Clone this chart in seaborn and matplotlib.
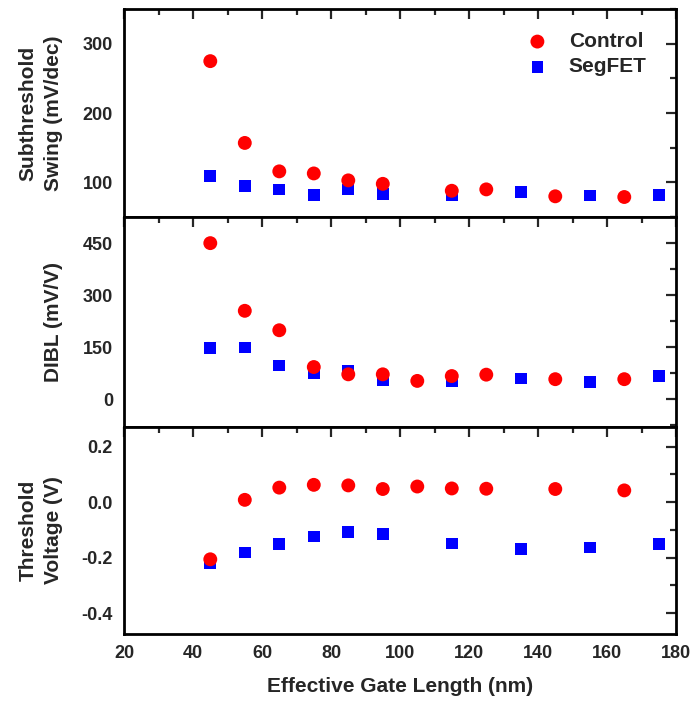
import numpy as np
import pandas as pd
import matplotlib
matplotlib.use("Agg")
import matplotlib.pyplot as plt
import seaborn as sns
from matplotlib.ticker import MultipleLocator, FormatStrFormatter

# gate lengths (nm)
x_control = [45, 55, 65, 75, 85, 95, 115, 125, 145, 165]
x_segfet = [45, 55, 65, 75, 85, 95, 115, 135, 155, 175]
x_control_dibl = [45, 55, 65, 75, 85, 95, 105, 115, 125, 145, 165]
x_control_vt = [45, 55, 65, 75, 85, 95, 105, 115, 125, 145, 165]

# subthreshold swing (mV/dec)
ss_control = [275, 157, 116, 113, 103, 98, 88, 90, 80, 79]
ss_segfet = [109, 95, 90, 82, 90, 83, 81, 86, 81, 82]

# DIBL (mV/V)
dibl_control = [450, 255, 199, 93, 72, 72, 53, 67, 71, 58, 58]
dibl_segfet = [147, 149, 97, 75, 81, 54, 52, 60, 49, 68]

# threshold voltage (V)
vt_control = [-0.206, 0.008, 0.052, 0.062, 0.060, 0.047, 0.056, 0.049, 0.048, 0.047, 0.042]
vt_segfet = [-0.219, -0.181, -0.151, -0.124, -0.108, -0.114, -0.149, -0.170, -0.164, -0.150]

sns.set_style("white")
plt.rcParams['font.family'] = ['Liberation Sans', 'DejaVu Sans']
plt.rcParams['font.weight'] = 'bold'

fig, axes = plt.subplots(3, 1, figsize=(6.93, 7.04), dpi=100, sharex=True,
                         gridspec_kw={'height_ratios': [208, 210, 207]})
fig.subplots_adjust(left=0.179, right=0.9755, top=0.987, bottom=0.0994, hspace=0)

panels = [
    (x_control, ss_control, x_segfet, ss_segfet, "Subthreshold\nSwing (mV/dec)",
     (50, 350), [100, 200, 300], 50),
    (x_control_dibl, dibl_control, x_segfet, dibl_segfet, "DIBL (mV/V)",
     (-80, 525), [0, 150, 300, 450], 75),
    (x_control_vt, vt_control, x_segfet, vt_segfet, "Threshold\nVoltage (V)",
     (-0.475, 0.27), [-0.4, -0.2, 0.0, 0.2], 0.1),
]

for i, (xc, yc, xs, ys, label, ylim, yticks, minor) in enumerate(panels):
    ax = axes[i]
    df_c = pd.DataFrame({'x': xc, 'y': yc})
    df_s = pd.DataFrame({'x': xs, 'y': ys})
    sns.scatterplot(data=df_c, x='x', y='y', ax=ax, color='#ff0000', marker='o', s=100,
                    edgecolor='none', label='Control' if i == 0 else None, zorder=3)
    sns.scatterplot(data=df_s, x='x', y='y', ax=ax, color='#0000ff', marker='s', s=70,
                    edgecolor='none', label='SegFET' if i == 0 else None, zorder=2)
    ax.set_ylim(*ylim)
    ax.set_xlim(20, 180)
    ax.set_yticks(yticks)
    ax.yaxis.set_minor_locator(MultipleLocator(minor))
    ax.xaxis.set_major_locator(MultipleLocator(20))
    ax.xaxis.set_minor_locator(MultipleLocator(10))
    ax.tick_params(which='both', direction='in', top=True, right=True, width=1.6,
                   labelsize=13, pad=8)
    ax.tick_params(which='major', length=7)
    ax.tick_params(which='minor', length=4)
    for sp in ax.spines.values():
        sp.set_linewidth(2)
        sp.set_color('black')
    ax.set_ylabel(label, fontsize=15, fontweight='bold', linespacing=1.45,
                  multialignment='center')
    ax.yaxis.set_label_coords(-0.11, 0.5)
    ax.set_xlabel('')
    for t in ax.get_yticklabels() + ax.get_xticklabels():
        t.set_fontweight('bold')

axes[2].yaxis.set_major_formatter(FormatStrFormatter('%.1f'))

leg = axes[0].legend(loc='upper left', bbox_to_anchor=(0.696, 0.93), frameon=False,
                     fontsize=15, handletextpad=0.5, labelspacing=0.3,
                     borderaxespad=0, borderpad=0.4)
for t in leg.get_texts():
    t.set_fontweight('bold')

axes[2].set_xlabel('Effective Gate Length (nm)', fontsize=15, fontweight='bold',
                   labelpad=11)

fig.savefig('out.png', dpi=100)
